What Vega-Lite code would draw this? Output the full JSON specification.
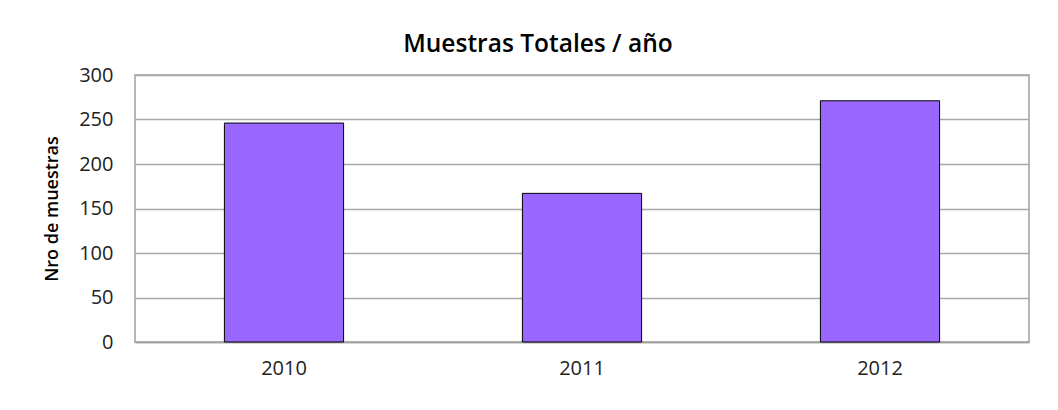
{
  "$schema": "https://vega.github.io/schema/vega-lite/v6.json",
  "autosize": {"type": "none"},
  "width": 894,
  "height": 267,
  "padding": {"left": 135, "top": 75, "right": 29, "bottom": 68},
  "background": "white",
  "title": {
    "text": "Muestras Totales / año",
    "font": "Open Sans",
    "fontSize": 24.5,
    "fontWeight": 600,
    "color": "#000000",
    "anchor": "middle",
    "dx": -44,
    "offset": 8
  },
  "data": {
    "values": [
      {"anio": "2010", "muestras": 246},
      {"anio": "2011", "muestras": 167},
      {"anio": "2012", "muestras": 271}
    ]
  },
  "mark": {"type": "bar", "fill": "#9966FF", "stroke": "#000000", "strokeWidth": 1},
  "encoding": {
    "x": {
      "field": "anio",
      "type": "ordinal",
      "scale": {"paddingInner": 0.6, "paddingOuter": 0.3},
      "axis": {
        "title": null,
        "labelAngle": 0,
        "ticks": false,
        "labelPadding": 16,
        "labelFont": "Open Sans",
        "labelFontSize": 20,
        "labelColor": "#222222",
        "domainColor": "#A0A0A0",
        "domainWidth": 1.5
      }
    },
    "y": {
      "field": "muestras",
      "type": "quantitative",
      "scale": {"domain": [0, 300], "nice": false},
      "axis": {
        "title": "Nro de muestras",
        "titleFont": "Open Sans",
        "titleFontSize": 18,
        "titleFontWeight": 600,
        "titleColor": "#000000",
        "titlePadding": 17,
        "values": [0, 50, 100, 150, 200, 250, 300],
        "ticks": false,
        "labelPadding": 22,
        "labelFont": "Open Sans",
        "labelFontSize": 20,
        "labelColor": "#222222",
        "domain": false,
        "grid": true,
        "gridColor": "#A8A8A8",
        "gridWidth": 1.5
      }
    }
  },
  "config": {
    "view": {"stroke": "#A0A0A0", "strokeWidth": 1.5}
  }
}
